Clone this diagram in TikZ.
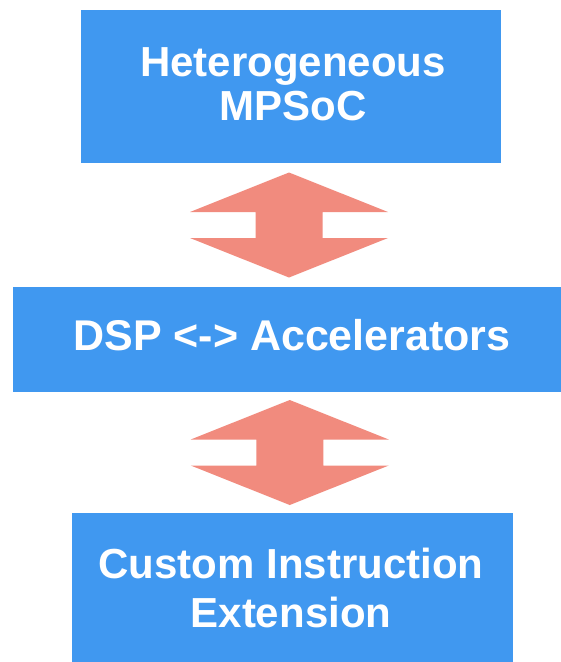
\documentclass[tikz,border=0pt]{standalone}
\usepackage{fontspec}
\setmainfont{Liberation Sans}
\usetikzlibrary{calc}
\definecolor{boxblue}{RGB}{64,152,240}
\definecolor{salmon}{RGB}{241,139,126}
\tikzset{
  blockbox/.style={fill=boxblue, draw=none, inner sep=0pt},
  boxtext/.style={text=white, font=\fontsize{42}{44}\selectfont\bfseries, align=center, anchor=base, inner sep=0pt},
  dblarrow/.pic={
    \fill[salmon] (0,-52.5) -- (99,-13) -- (33.5,-13) -- (33.5,13) -- (99,13)
      -- (0,52.5) -- (-99,13) -- (-33.5,13) -- (-33.5,-13) -- (-99,-13) -- cycle;
  }
}
\begin{document}
\begin{tikzpicture}[x=1pt,y=-1pt]
  \useasboundingbox (0,0) rectangle (561,662);
  \fill[white] (0,0) rectangle (561,662);
  % boxes
  \node[blockbox, minimum width=420pt, minimum height=153pt] (top) at (291,86.5) {};
  \node[blockbox, minimum width=548pt, minimum height=105pt] (mid) at (287,339.5) {};
  \node[blockbox, minimum width=441pt, minimum height=149pt] (bot) at (292.5,587.5) {};
  % texts (base anchor = baseline of last line)
  \node[boxtext] (toptext) at (293,120) {Heterogeneous\\MPSoC};
  \node[boxtext, font=\fontsize{43}{44}\selectfont\bfseries] (midtext) at (292,350) {DSP <-> Accelerators};
  \node[boxtext, font=\fontsize{42}{49}\selectfont\bfseries] (bottext) at (291,627) {Custom Instruction\\Extension};
  % block arrows
  \coordinate (a1) at ($(top.south)!0.5!(mid.north)$);
  \coordinate (a2) at ($(mid.south)!0.5!(bot.north)$);
  \pic at (a1) {dblarrow};
  \pic at (a2) {dblarrow};
\end{tikzpicture}
\end{document}
